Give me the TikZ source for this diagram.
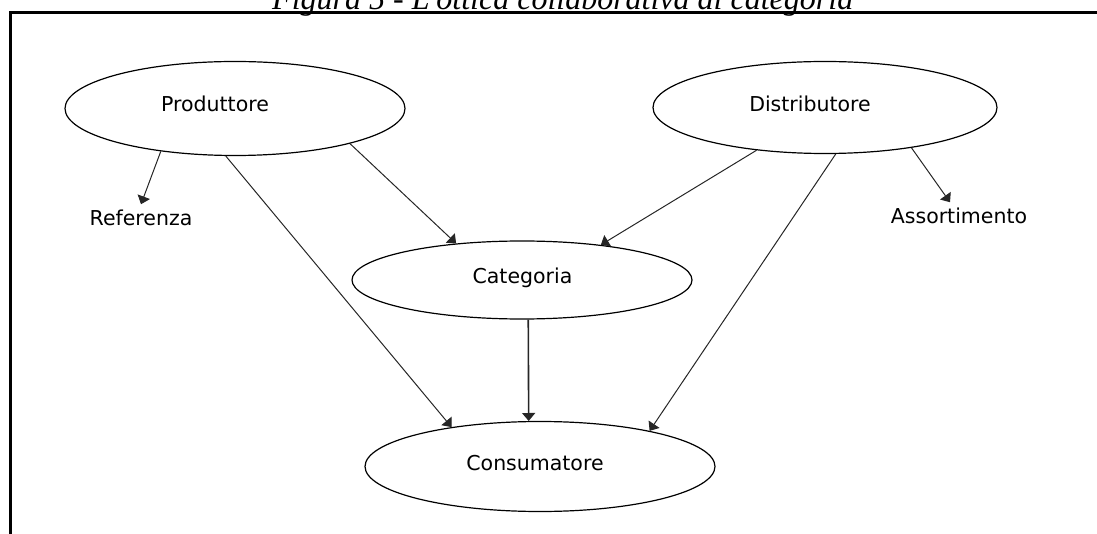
\documentclass[tikz,border=0pt]{standalone}
\usepackage{fontspec}
\setmainfont{DejaVu Sans}
\newfontfamily\capfont{Liberation Serif}
\usetikzlibrary{shapes.geometric,arrows.meta,calc}
\begin{document}
\begin{tikzpicture}[x=1pt,y=-1pt,
  ell/.style={draw=black, ellipse, line width=1.2pt, inner sep=0pt},
  lbl/.style={font=\fontsize{20.5}{24}\selectfont, anchor=base, inner sep=0pt},
  con/.style={draw=black!85, line width=1pt, -{Triangle[width=13pt,length=8pt]}},
]
\useasboundingbox (0,0) rectangle (1097,534);
\begin{scope}
\clip (0,0) rectangle (1097,534);
\node[font=\capfont\itshape\fontsize{32}{36}\selectfont, anchor=base west, inner sep=0pt] (cap) at (272,9.3) {Figura 5 - L'ottica collaborativa di categoria};
\end{scope}
\draw[line width=3pt] (10.5,534) -- (10.5,12.5) -- (1097,12.5);

\node[ell, minimum width=340pt, minimum height=94pt] (prod) at (235,108.5) {};
\node[ell, minimum width=344pt, minimum height=92pt] (dist) at (825,107.5) {};
\node[ell, minimum width=340pt, minimum height=78pt] (cat) at (522,280) {};
\node[ell, minimum width=350pt, minimum height=90pt] (cons) at (540,466.5) {};

\node[lbl] (prodt) at (215,112) {Produttore};
\node[lbl] (distt) at (810,112) {Distributore};
\node[lbl] (catt) at (522.5,283.3) {Categoria};
\node[lbl] (const) at (535,470) {Consumatore};
\node[lbl] (ref) at (141,226) {Referenza};
\node[lbl] (ass) at (959,224) {Assortimento};

\draw[con] (prod.-150.6) -- ($(ref.north)+(0,-6)$);
\draw[con] (prod.-101.9) -- (cons.156.8);
\draw[con] (prod.-17.1) -- (cat.151.1);
\draw[con] (dist.-148.2) -- (cat.24.2);
\draw[con] (dist.-77.7) -- (cons.18.8);
\draw[con] (dist.-25.4) -- ($(ass.north)+(-9,-6)$);
\draw[con, line width=1.6pt] (cat.-81) -- (cons.104.9);
\end{tikzpicture}
\end{document}
